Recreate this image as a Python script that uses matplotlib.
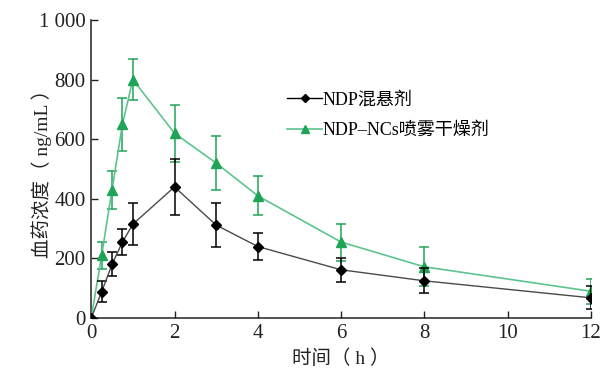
import matplotlib
matplotlib.use("Agg")
import matplotlib.pyplot as plt
from matplotlib.ticker import FuncFormatter
from matplotlib.lines import Line2D

time_h = [0, 0.25, 0.5, 0.75, 1, 2, 3, 4, 6, 8, 12]
susp = [0, 88, 180, 255, 315, 440, 312, 240, 162, 125, 68]
susp_err = [0, 35, 40, 45, 70, 95, 73, 45, 40, 42, 38]
ncs = [0, 210, 430, 650, 800, 620, 520, 410, 255, 172, 90]
ncs_err = [0, 45, 65, 88, 68, 95, 90, 65, 62, 65, 42]
xticks = [0, 2, 4, 6, 8, 10, 12]
yticks = [0, 200, 400, 600, 800, 1000]
labels = ['NDP混悬剂', 'NDP–NCs喷雾干燥剂']

serif = ['Liberation Serif', 'Noto Sans CJK SC']
plt.rcParams['font.family'] = serif

fig = plt.figure(figsize=(6, 3.76), dpi=100)
ax = fig.add_axes([0.152, 0.154, 0.833, 0.793])

gline = '#5ec48e'
gmark = '#1fa457'
ax.errorbar(time_h, ncs, yerr=ncs_err, color=gline, marker='^', markersize=6.5,
            markerfacecolor=gmark, markeredgecolor=gmark, ecolor=gmark,
            elinewidth=1.1, capsize=3.5, capthick=1.1, linewidth=1.2, zorder=3)
ax.errorbar(time_h, susp, yerr=susp_err, color='#4a4a4a', marker='D', markersize=5,
            markerfacecolor='black', markeredgecolor='black', ecolor='black',
            elinewidth=1.1, capsize=3.5, capthick=1.1, linewidth=1.0, zorder=4)

ax.set_xlim(0, 12)
ax.set_ylim(0, 1000)
ax.set_xticks(xticks)
ax.set_yticks(yticks)
ax.yaxis.set_major_formatter(FuncFormatter(lambda v, p: '1 000' if v == 1000 else f'{int(v)}'))
ax.tick_params(direction='in', length=5, width=1, labelsize=15, colors='#222222', pad=4)
for s in ['top', 'right']:
    ax.spines[s].set_visible(False)
for s in ['left', 'bottom']:
    ax.spines[s].set_linewidth(1.1)
    ax.spines[s].set_color('#222222')

ax.set_xlabel('时间（ h ）', fontsize=14, color='#222222', labelpad=5)
ax.set_ylabel('血药浓度（ ng/mL ）', fontsize=14, color='#222222')
ax.yaxis.set_label_coords(-0.078, 0.5)

h1 = Line2D([], [], color='black', marker='D', markersize=4, linewidth=1.0)
h2 = Line2D([], [], color=gline, marker='^', markersize=5.5,
            markerfacecolor=gmark, markeredgecolor=gmark, linewidth=1.2)
ax.legend([h1, h2], labels, loc='upper left', bbox_to_anchor=(0.36, 0.815),
          frameon=False, fontsize=13, handlelength=1.9, handletextpad=0.05,
          labelspacing=0.75)

fig.savefig('out.png', dpi=100)
